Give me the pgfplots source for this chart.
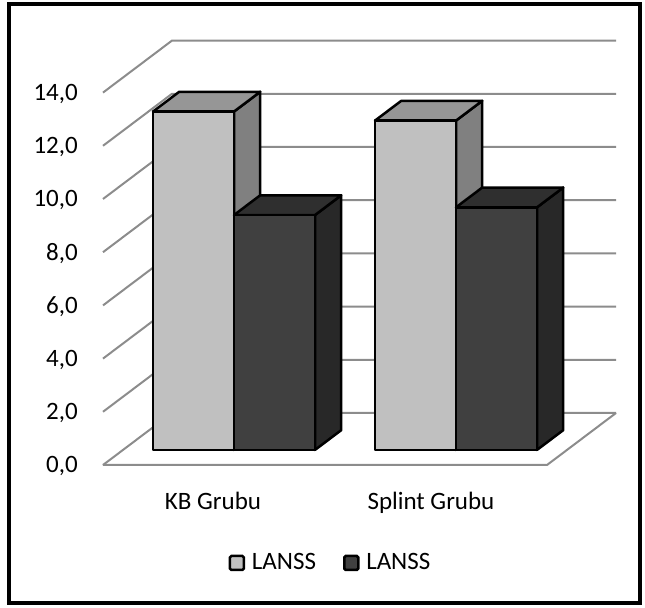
\documentclass[border=0pt]{standalone}
\usepackage{pgfplots}
\pgfplotsset{compat=1.18}
\usepackage{fontspec}
\setmainfont{Carlito}
\definecolor{lightfront}{HTML}{C0C0C0}
\definecolor{lighttop}{HTML}{969696}
\definecolor{lightside}{HTML}{808080}
\definecolor{darkfront}{HTML}{404040}
\definecolor{darktop}{HTML}{2F2F2F}
\definecolor{darkside}{HTML}{282828}
\definecolor{gridgray}{HTML}{8C8C8C}
% one 3D bar: x left, x right, value, front, top, side colour
\newcommand{\cubebar}[6]{%
  \addplot3[forget plot,fill=#6,draw=black,line width=2.5bp,line join=round] coordinates {(#2,0.29,0) (#2,0.67,0) (#2,0.67,#3) (#2,0.29,#3)} -- cycle;
  \addplot3[forget plot,fill=#5,draw=black,line width=2.5bp,line join=round] coordinates {(#1,0.29,#3) (#2,0.29,#3) (#2,0.67,#3) (#1,0.67,#3)} -- cycle;
  \addplot3[forget plot,fill=#4,draw=black,line width=2.5bp,line join=round] coordinates {(#1,0.29,0) (#2,0.29,0) (#2,0.29,#3) (#1,0.29,#3)} -- cycle;
}
\pgfplotsset{squarekey/.style={legend image code/.code={\draw[#1,draw=black,line width=2.5bp,rounded corners=1.5bp] (0bp,-7bp) rectangle (14bp,7bp); \path[draw=none,fill=none] (19bp,0bp);}}}
\begin{document}
\fontsize{25bp}{30bp}\selectfont
\begin{tikzpicture}
\begin{axis}[
  x={(1bp,0bp)}, y={(69bp,52bp)}, z={(0bp,26.6bp)},
  xmin=0, xmax=444, ymin=0, ymax=1, zmin=0, zmax=14,
  hide axis, clip=false,
  legend columns=2,
  legend style={at={(axis cs:228,0,-3.684)}, anchor=center, draw=none, fill=none,
    font=\fontsize{25bp}{30bp}\selectfont, inner sep=0pt,
    /tikz/every even column/.append style={column sep=24bp},
    nodes={inner sep=0pt, inner xsep=3bp}},
]
% walls and floor grid
\pgfplotsinvokeforeach{0,2,4,6,8,10,12,14}{
  \addplot3[gridgray,line width=2bp,no marks,forget plot] coordinates {(0,0,#1) (0,1,#1) (444,1,#1)};
  \node[anchor=base east,inner sep=0pt,font=\fontsize{25bp}{30bp}\selectfont] at (axis cs:0,0,#1) [xshift=-25bp,yshift=-8bp] {#1,0};
}
\addplot3[gridgray,line width=2bp,no marks,forget plot] coordinates {(0,0,0) (444,0,0) (444,1,0)};
% bars
\cubebar{30}{111}{12.72}{lightfront}{lighttop}{lightside}
\cubebar{111}{192}{8.83}{darkfront}{darktop}{darkside}
\cubebar{252}{333}{12.38}{lightfront}{lighttop}{lightside}
\cubebar{333}{414}{9.12}{darkfront}{darktop}{darkside}
% category labels
\node[anchor=base,inner sep=0pt,font=\fontsize{25bp}{30bp}\selectfont] at (axis cs:110,0,0) [yshift=-45bp] {KB Grubu};
\node[anchor=base,inner sep=0pt,font=\fontsize{25bp}{30bp}\selectfont] at (axis cs:328,0,0) [yshift=-45bp] {Splint Grubu};
% legend
\addlegendimage{squarekey={fill=lightfront}}
\addlegendentry{LANSS}
\addlegendimage{squarekey={fill=darkfront}}
\addlegendentry{LANSS}
% chart border
\draw[line width=4.5bp] (axis cs:-94,0,-5.188) rectangle (axis cs:537,0,17.331);
\coordinate (bbA) at (axis cs:-103,0,-5.376);
\coordinate (bbB) at (axis cs:542,0,17.481);
\end{axis}
\pgfresetboundingbox
\useasboundingbox (bbA) rectangle (bbB);
\end{tikzpicture}
\end{document}
